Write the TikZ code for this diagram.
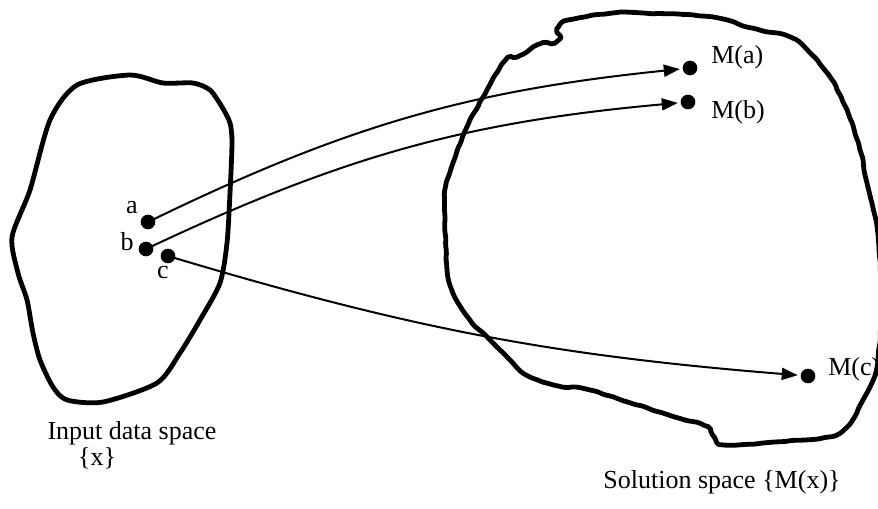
\documentclass[tikz,border=0pt]{standalone}
\usepackage{fontspec}
\setmainfont{Liberation Serif}
\usetikzlibrary{arrows.meta,decorations.pathmorphing}
\begin{document}
\begin{tikzpicture}[x=0.75pt,y=-0.75pt,
  blob/.style={line width=3.6pt,line join=round},
  wobbly/.style={decorate,decoration={random steps,segment length=5pt,amplitude=0.5pt},rounded corners=1.5pt},
  pt/.style={circle,fill=black,inner sep=0pt,minimum size=11pt},
  lbl/.style={inner sep=0pt,font=\fontsize{19.5pt}{22pt}\selectfont},
  maparrow/.style={line width=1.5pt,-{Triangle[length=12pt,width=9pt]},shorten <=-1pt,shorten >=2pt}]
\useasboundingbox (0,0) rectangle (878,508);
\pgfmathsetseed{7}

% input data space
\draw[blob] plot[smooth cycle,tension=0.45] coordinates {
  (77,85) (130,75) (163,83) (193,83) (210,90) (222,107) (230,123) (232,143)
  (230,193) (227,243) (220,283) (200,320) (180,353) (157,383) (103,402)
  (67,400) (53,387) (40,360) (33,333) (27,300) (18,273) (12,237) (30,190) (50,120)};

% solution space, a slightly shaky hand-drawn outline
\draw[blob,wobbly] plot[smooth cycle,tension=0.45] coordinates {
  (555,43) (557,29) (570,20) (613,13) (643,13) (713,17) (747,27) (790,37)
  (810,53) (830,77) (847,110) (860,150) (867,183) (877,227) (882,300) (877,367)
  (863,400) (847,427) (827,437) (763,443) (725,445) (717,440) (707,427)
  (663,413) (590,390) (563,387) (530,377) (510,360) (490,340) (470,320)
  (453,293) (447,267) (445,217) (445,190) (453,163) (467,127) (487,90)
  (503,63) (517,57) (537,45)};

% points of the input space
\node[pt] (a) at (148,222) {};
\node[pt] (b) at (146,249) {};
\node[pt] (c) at (168,256) {};
\node[lbl] (la) at (132,208) {a};
\node[lbl] (lb) at (127,242) {b};
\node[lbl] (lc) at (163,272) {c};

% their images
\node[pt] (Ma) at (690,68) {};
\node[pt] (Mb) at (688,102) {};
\node[pt] (Mc) at (808,376) {};
\node[lbl,anchor=west] (lMa) at (711,57) {M(a)};
\node[lbl,anchor=west] (lMb) at (711,112) {M(b)};
\node[lbl,anchor=west] (lMc) at (828,369) {M(c)};

% mappings
\draw[maparrow] (a) to[bend left=10] (Ma);
\draw[maparrow] (b) to[bend left=10] (Mb);
\draw[maparrow] (c) to[bend right=6] (Mc);

% captions
\node[lbl] (cap1) at (132,433) {Input data space};
\node[lbl] (cap2) at (97,458) {\{x\}};
\node[lbl] (cap3) at (722,482) {Solution space \{M(x)\}};
\end{tikzpicture}
\end{document}
